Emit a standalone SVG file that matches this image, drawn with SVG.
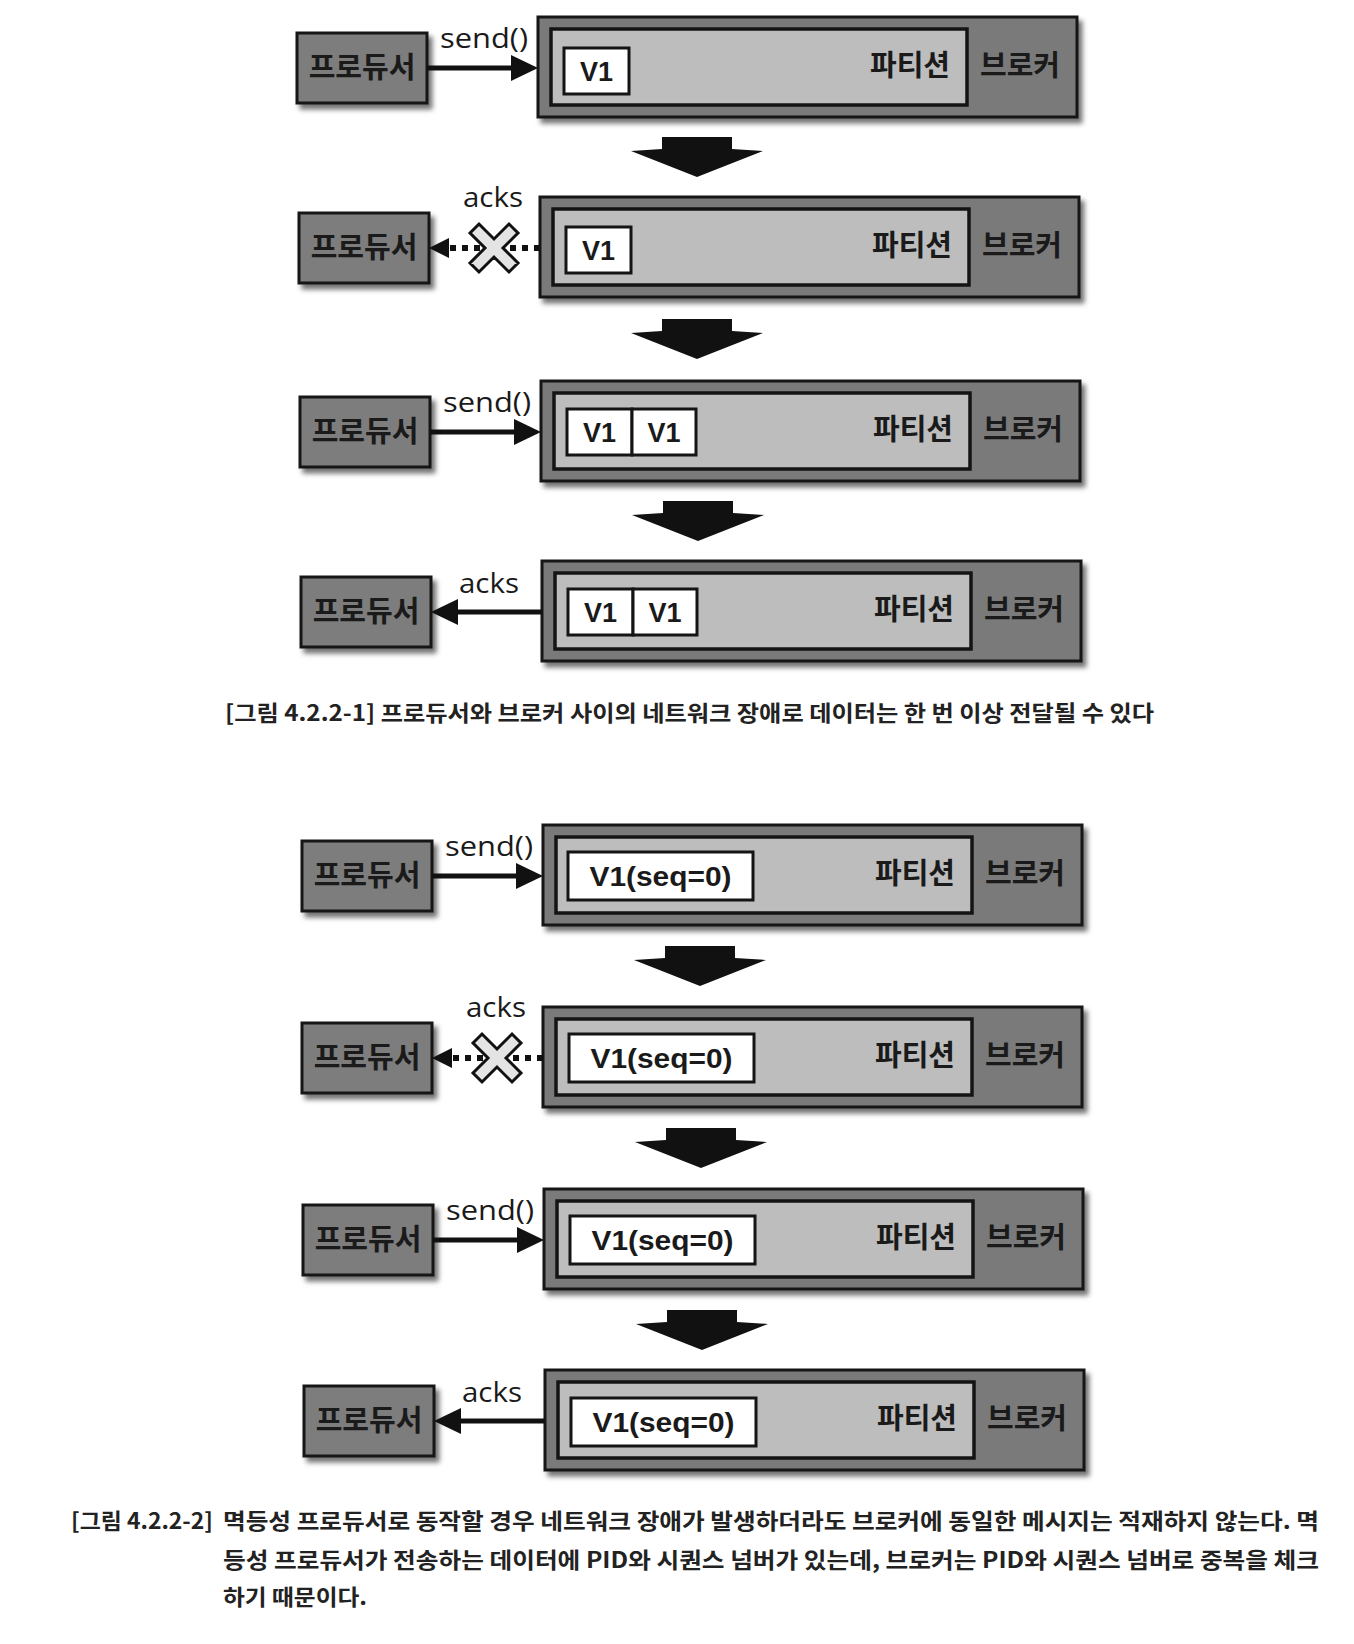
<svg xmlns="http://www.w3.org/2000/svg" width="1354" height="1644" viewBox="0 0 1354 1644">
<style>
.producer{fill:#7d7d7d;stroke:#141414;stroke-width:3;filter:url(#sh)}
.broker{fill:#7a7a7a;stroke:#141414;stroke-width:3;filter:url(#sh)}
.partition{fill:#bdbdbd;stroke:#141414;stroke-width:3.5}
.msg{fill:#ffffff;stroke:#141414;stroke-width:3}
.kr{font-family:"Noto Sans CJK KR","Noto Sans",sans-serif;font-weight:bold;font-size:29px;fill:#1a1a1a}
.mt{font-family:"Liberation Sans",Arial,sans-serif;font-weight:bold;font-size:27px;fill:#1a1a1a;text-anchor:middle}
.lbl{font-family:"Open Sans","Noto Sans",sans-serif;font-size:27px;fill:#1a1a1a}
.cap{font-family:"Noto Sans CJK KR","Noto Sans",sans-serif;font-weight:bold;font-size:22px;fill:#222}
.ln{stroke:#111;stroke-width:5;fill:none}
.dot{stroke:#111;stroke-width:6;fill:none;stroke-dasharray:6 6}
.hd{fill:#111}
.x{fill:#e4e4e4;stroke:#111;stroke-width:3;stroke-linejoin:miter}
.down{fill:#111}
</style>
<defs>
<filter id="sh" x="-10%" y="-10%" width="125%" height="140%">
<feDropShadow dx="4" dy="5" stdDeviation="2.5" flood-color="#000" flood-opacity="0.55"/>
</filter>
<polygon id="xmark" points="-24,-15 -15,-24 0,-9 15,-24 24,-15 9,0 24,15 15,24 0,9 -15,24 -24,15 -9,0"/>
<polygon id="darrow" points="-35,0 35,0 35,12 66,14 0,40 -66,14 -35,12"/>
</defs>
<rect width="1354" height="1644" fill="#ffffff"/>

<!-- Figure 1 -->
<g id="r1-producer" transform="translate(297,33)"><rect class="producer" width="130" height="70"/><text class="kr" x="65" y="45" text-anchor="middle">프로듀서</text></g>
<g id="r1-broker" transform="translate(538,17)"><rect class="broker" width="539" height="100"/><rect class="partition" x="13" y="12" width="416" height="76"/><text class="kr" x="412" y="59" text-anchor="end">파티션</text><text class="kr" x="482" y="59" text-anchor="middle">브로커</text>
<g id="r1-msg"><rect class="msg" x="26" y="31" width="65" height="46"/><text class="mt" x="58.5" y="64">V1</text></g></g>

<g id="r2-producer" transform="translate(299,213)"><rect class="producer" width="130" height="70"/><text class="kr" x="65" y="45" text-anchor="middle">프로듀서</text></g>
<g id="r2-broker" transform="translate(540,197)"><rect class="broker" width="539" height="100"/><rect class="partition" x="13" y="12" width="416" height="76"/><text class="kr" x="412" y="59" text-anchor="end">파티션</text><text class="kr" x="482" y="59" text-anchor="middle">브로커</text>
<g id="r2-msg"><rect class="msg" x="26" y="30" width="65" height="46"/><text class="mt" x="58.5" y="63">V1</text></g></g>

<g id="r3-producer" transform="translate(300,397)"><rect class="producer" width="130" height="70"/><text class="kr" x="65" y="45" text-anchor="middle">프로듀서</text></g>
<g id="r3-broker" transform="translate(541,381)"><rect class="broker" width="539" height="100"/><rect class="partition" x="13" y="12" width="416" height="76"/><text class="kr" x="412" y="59" text-anchor="end">파티션</text><text class="kr" x="482" y="59" text-anchor="middle">브로커</text>
<g id="r3-msg1"><rect class="msg" x="26" y="28" width="65" height="46"/><text class="mt" x="58.5" y="61">V1</text></g>
<g id="r3-msg2"><rect class="msg" x="91" y="28" width="64" height="46"/><text class="mt" x="123" y="61">V1</text></g></g>

<g id="r4-producer" transform="translate(301,577)"><rect class="producer" width="130" height="70"/><text class="kr" x="65" y="45" text-anchor="middle">프로듀서</text></g>
<g id="r4-broker" transform="translate(542,561)"><rect class="broker" width="539" height="100"/><rect class="partition" x="13" y="12" width="416" height="76"/><text class="kr" x="412" y="59" text-anchor="end">파티션</text><text class="kr" x="482" y="59" text-anchor="middle">브로커</text>
<g id="r4-msg1"><rect class="msg" x="26" y="28" width="65" height="46"/><text class="mt" x="58.5" y="61">V1</text></g>
<g id="r4-msg2"><rect class="msg" x="91" y="28" width="64" height="46"/><text class="mt" x="123" y="61">V1</text></g></g>

<!-- Figure 2 -->
<g id="r5-producer" transform="translate(302,841)"><rect class="producer" width="130" height="70"/><text class="kr" x="65" y="45" text-anchor="middle">프로듀서</text></g>
<g id="r5-broker" transform="translate(543,825)"><rect class="broker" width="539" height="100"/><rect class="partition" x="13" y="12" width="416" height="76"/><text class="kr" x="412" y="59" text-anchor="end">파티션</text><text class="kr" x="482" y="59" text-anchor="middle">브로커</text>
<g id="r5-msg"><rect class="msg" x="25" y="27" width="185" height="48"/><text class="mt" x="117.5" y="61" textLength="142" lengthAdjust="spacingAndGlyphs">V1(seq=0)</text></g></g>

<g id="r6-producer" transform="translate(302,1023)"><rect class="producer" width="130" height="70"/><text class="kr" x="65" y="45" text-anchor="middle">프로듀서</text></g>
<g id="r6-broker" transform="translate(543,1007)"><rect class="broker" width="539" height="100"/><rect class="partition" x="13" y="12" width="416" height="76"/><text class="kr" x="412" y="59" text-anchor="end">파티션</text><text class="kr" x="482" y="59" text-anchor="middle">브로커</text>
<g id="r6-msg"><rect class="msg" x="26" y="27" width="185" height="48"/><text class="mt" x="118.5" y="61" textLength="142" lengthAdjust="spacingAndGlyphs">V1(seq=0)</text></g></g>

<g id="r7-producer" transform="translate(303,1205)"><rect class="producer" width="130" height="70"/><text class="kr" x="65" y="45" text-anchor="middle">프로듀서</text></g>
<g id="r7-broker" transform="translate(544,1189)"><rect class="broker" width="539" height="100"/><rect class="partition" x="13" y="12" width="416" height="76"/><text class="kr" x="412" y="59" text-anchor="end">파티션</text><text class="kr" x="482" y="59" text-anchor="middle">브로커</text>
<g id="r7-msg"><rect class="msg" x="26" y="27" width="185" height="48"/><text class="mt" x="118.5" y="61" textLength="142" lengthAdjust="spacingAndGlyphs">V1(seq=0)</text></g></g>

<g id="r8-producer" transform="translate(304,1386)"><rect class="producer" width="130" height="70"/><text class="kr" x="65" y="45" text-anchor="middle">프로듀서</text></g>
<g id="r8-broker" transform="translate(545,1370)"><rect class="broker" width="539" height="100"/><rect class="partition" x="13" y="12" width="416" height="76"/><text class="kr" x="412" y="59" text-anchor="end">파티션</text><text class="kr" x="482" y="59" text-anchor="middle">브로커</text>
<g id="r8-msg"><rect class="msg" x="26" y="28" width="185" height="48"/><text class="mt" x="118.5" y="62" textLength="142" lengthAdjust="spacingAndGlyphs">V1(seq=0)</text></g></g>

<!-- connectors -->
<g id="connectors">
<line class="ln" x1="427" y1="68" x2="514" y2="68"/><polygon class="hd" points="538,68 511,55 511,81"/>
<text class="lbl" x="440" y="48" textLength="88" lengthAdjust="spacingAndGlyphs">send()</text>

<line class="dot" x1="450" y1="248" x2="540" y2="248"/><polygon class="hd" points="429,248 449,238 449,258"/>
<use href="#xmark" class="x" transform="translate(494,248)"/>
<text class="lbl" x="463" y="207" textLength="60" lengthAdjust="spacingAndGlyphs">acks</text>

<line class="ln" x1="430" y1="432" x2="517" y2="432"/><polygon class="hd" points="541,432 514,419 514,445"/>
<text class="lbl" x="443" y="412" textLength="88" lengthAdjust="spacingAndGlyphs">send()</text>

<line class="ln" x1="542" y1="612" x2="455" y2="612"/><polygon class="hd" points="431,612 458,599 458,625"/>
<text class="lbl" x="459" y="593" textLength="60" lengthAdjust="spacingAndGlyphs">acks</text>

<line class="ln" x1="432" y1="876" x2="519" y2="876"/><polygon class="hd" points="543,876 516,863 516,889"/>
<text class="lbl" x="445" y="856" textLength="88" lengthAdjust="spacingAndGlyphs">send()</text>

<line class="dot" x1="453" y1="1058" x2="543" y2="1058"/><polygon class="hd" points="432,1058 452,1048 452,1068"/>
<use href="#xmark" class="x" transform="translate(497,1058)"/>
<text class="lbl" x="466" y="1017" textLength="60" lengthAdjust="spacingAndGlyphs">acks</text>

<line class="ln" x1="433" y1="1240" x2="520" y2="1240"/><polygon class="hd" points="544,1240 517,1227 517,1253"/>
<text class="lbl" x="446" y="1220" textLength="88" lengthAdjust="spacingAndGlyphs">send()</text>

<line class="ln" x1="545" y1="1421" x2="458" y2="1421"/><polygon class="hd" points="434,1421 461,1408 461,1434"/>
<text class="lbl" x="462" y="1402" textLength="60" lengthAdjust="spacingAndGlyphs">acks</text>
</g>

<!-- step arrows -->
<g id="steps">
<use href="#darrow" class="down" transform="translate(697,137)"/>
<use href="#darrow" class="down" transform="translate(697,319)"/>
<use href="#darrow" class="down" transform="translate(698,501)"/>
<use href="#darrow" class="down" transform="translate(700,946)"/>
<use href="#darrow" class="down" transform="translate(701,1128)"/>
<use href="#darrow" class="down" transform="translate(702,1310)"/>
</g>

<!-- captions -->
<g id="captions">
<text class="cap" x="225" y="721" textLength="929" lengthAdjust="spacingAndGlyphs">[그림 4.2.2-1] 프로듀서와 브로커 사이의 네트워크 장애로 데이터는 한 번 이상 전달될 수 있다</text>
<text class="cap" x="71" y="1529" textLength="142" lengthAdjust="spacingAndGlyphs">[그림 4.2.2-2]</text>
<text class="cap" x="223" y="1529" textLength="1096" lengthAdjust="spacingAndGlyphs">멱등성 프로듀서로 동작할 경우 네트워크 장애가 발생하더라도 브로커에 동일한 메시지는 적재하지 않는다. 멱</text>
<text class="cap" x="223" y="1568" textLength="1096" lengthAdjust="spacingAndGlyphs">등성 프로듀서가 전송하는 데이터에 PID와 시퀀스 넘버가 있는데, 브로커는 PID와 시퀀스 넘버로 중복을 체크</text>
<text class="cap" x="223" y="1605" textLength="144" lengthAdjust="spacingAndGlyphs">하기 때문이다.</text>
</g>
</svg>
